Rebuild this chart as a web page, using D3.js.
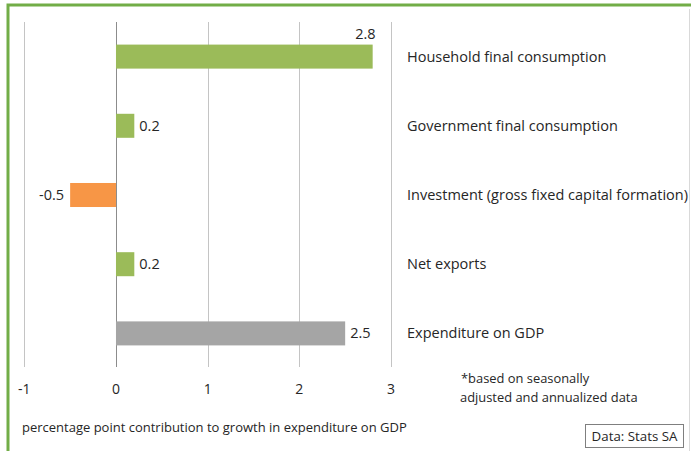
<!DOCTYPE html>
<html>
<head>
<meta charset="utf-8">
<script src="https://cdn.jsdelivr.net/npm/d3@7"></script>
<style>
  html, body { margin: 0; padding: 0; background: #fff; }
  svg { display: block; font-family: "Open Sans", "Noto Sans", sans-serif; }
</style>
</head>
<body>
<svg id="chart" width="691" height="451"></svg>
<script>
// Contributions to growth in expenditure on GDP (percentage points)
const categories = [
  "Household final consumption",
  "Government final consumption",
  "Investment (gross fixed capital formation)",
  "Net exports",
  "Expenditure on GDP"
];
const values = [2.8, 0.2, -0.5, 0.2, 2.5];
const barColors = ["#9bbb59", "#9bbb59", "#f79646", "#9bbb59", "#a5a5a5"];
const xTicks = [-1, 0, 1, 2, 3];
const axisTitle = "percentage point contribution to growth in expenditure on GDP";
const footnote = ["*based on seasonally", "adjusted and annualized data"];
const source = "Data: Stats SA";

const svg = d3.select("#chart");
const fmt = d => d.toFixed(1);   // plain hyphen for negatives

// Frame: green border on left and top, light rule on the right
svg.append("rect").attr("x", 8).attr("y", 5).attr("width", 700).attr("height", 460)
  .attr("fill", "#fff").attr("stroke", "#72ad47").attr("stroke-width", 3);
svg.append("line").attr("x1", 689.5).attr("x2", 689.5).attr("y1", 9).attr("y2", 451)
  .attr("stroke", "#d9d9d9");

const x = d3.scaleLinear().domain([-1, 3]).range([24.3, 391]);
const y = d3.scaleBand().domain(categories).range([22, 368]).paddingInner(0.653).paddingOuter(0.3265);

// Vertical gridlines
svg.append("g").selectAll("line").data(xTicks).join("line")
  .attr("x1", d => Math.round(x(d)) + 0.5).attr("x2", d => Math.round(x(d)) + 0.5)
  .attr("y1", 22).attr("y2", 367)
  .attr("stroke", d => d === 0 ? "#8c8c8c" : "#c4c4c4")
  .attr("stroke-width", 1);

// Bars
svg.append("g").selectAll("rect").data(values).join("rect")
  .attr("x", d => x(Math.min(0, d)))
  .attr("width", d => Math.abs(x(d) - x(0)))
  .attr("y", (d, i) => y(categories[i]))
  .attr("height", y.bandwidth())
  .attr("fill", (d, i) => barColors[i]);

// Value labels
svg.append("g").selectAll("text").data(values).join("text")
  .attr("x", (d, i) => {
    if (i === 0) return x(d) + 3;
    if (d < 0) return x(d) - 6;
    return x(d) + 5;
  })
  .attr("y", (d, i) => i === 0 ? y(categories[i]) - 6 : y(categories[i]) + y.bandwidth() / 2 + 5)
  .attr("text-anchor", (d, i) => (i === 0 || d < 0) ? "end" : "start")
  .attr("font-size", 14.5).attr("fill", "#262626")
  .text(fmt);

// Category labels on the right
svg.append("g").selectAll("text").data(categories).join("text")
  .attr("x", 407)
  .attr("y", d => y(d) + y.bandwidth() / 2 + 5)
  .attr("font-size", 14.5).attr("fill", "#262626")
  .text(d => d);

// X axis tick labels
svg.append("g").selectAll("text").data(xTicks).join("text")
  .attr("x", d => x(d)).attr("y", 394)
  .attr("text-anchor", "middle")
  .attr("font-size", 14).attr("fill", "#262626")
  .text(d => d);

// Axis title
svg.append("text").attr("x", 22).attr("y", 432)
  .attr("font-size", 13).attr("fill", "#262626").text(axisTitle);

// Footnote
svg.append("g").selectAll("text").data(footnote).join("text")
  .attr("x", (d, i) => i === 0 ? 461 : 460)
  .attr("y", (d, i) => 383 + i * 18.5)
  .attr("font-size", 12.9).attr("fill", "#262626").text(d => d);

// Source box
svg.append("rect").attr("x", 585.5).attr("y", 424.5).attr("width", 98).attr("height", 23)
  .attr("fill", "#fff").attr("stroke", "#7f7f7f");
svg.append("text").attr("x", 634.5).attr("y", 441).attr("text-anchor", "middle")
  .attr("font-size", 13.3).attr("fill", "#262626").text(source);
</script>
</body>
</html>
